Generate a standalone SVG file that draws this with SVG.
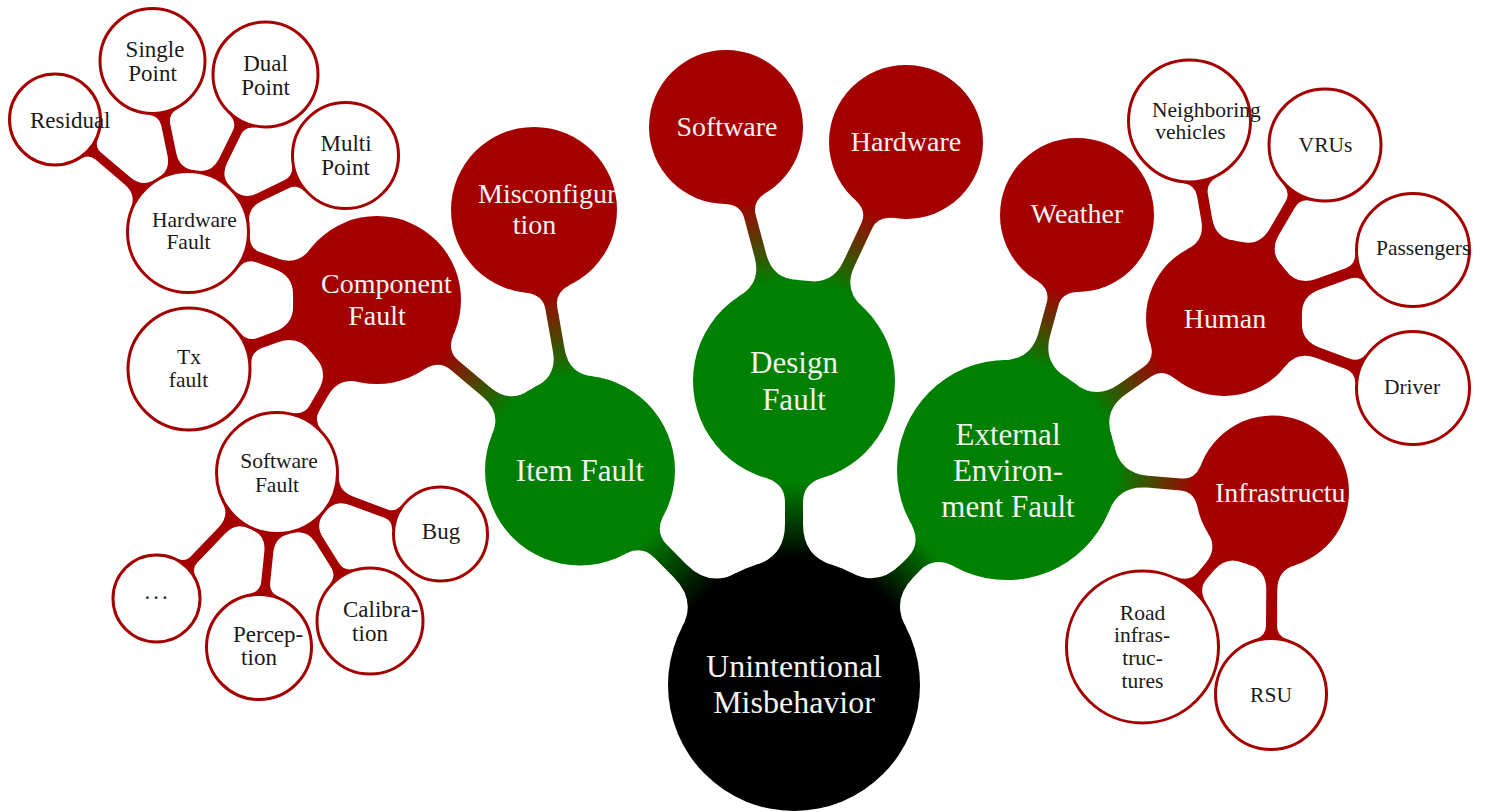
<svg xmlns="http://www.w3.org/2000/svg" width="1486" height="812" viewBox="0 0 1486 812">
<style>
.bg{fill:#ffffff}
.cr{fill:#a50000}
.nb{fill:#000000}
.ng{fill:#008000}
.nr{fill:#a50000}
.nw{fill:#ffffff;stroke:#a50000;stroke-width:3}
text{font-family:"Liberation Serif","Times New Roman",serif}
.tw{fill:#f2f2f2}
.tk{fill:#1a1a1a}
.s0{font-size:32px}
.s1{font-size:31px}
.s2{font-size:28px}
.s3{font-size:21.5px}
.s4{font-size:23px}
.m{text-anchor:middle}
.l{text-anchor:start}
</style>
<defs>
<clipPath id="clipMis"><circle cx="534" cy="210" r="83"/></clipPath>
<clipPath id="clipInf"><circle cx="1272.5" cy="492" r="76.5"/></clipPath>
<linearGradient id="g1" gradientUnits="userSpaceOnUse" x1="126" y1="0" x2="208" y2="0"><stop offset="0" stop-color="#000"/><stop offset="1" stop-color="#008000"/></linearGradient>
<linearGradient id="g2" gradientUnits="userSpaceOnUse" x1="126" y1="0" x2="203" y2="0"><stop offset="0" stop-color="#000"/><stop offset="1" stop-color="#008000"/></linearGradient>
<linearGradient id="g3" gradientUnits="userSpaceOnUse" x1="126" y1="0" x2="192.7" y2="0"><stop offset="0" stop-color="#000"/><stop offset="1" stop-color="#008000"/></linearGradient>
<linearGradient id="g4" gradientUnits="userSpaceOnUse" x1="95" y1="0" x2="181" y2="0"><stop offset="0" stop-color="#008000"/><stop offset="1" stop-color="#a50000"/></linearGradient>
<linearGradient id="g5" gradientUnits="userSpaceOnUse" x1="95" y1="0" x2="181.5" y2="0"><stop offset="0" stop-color="#008000"/><stop offset="1" stop-color="#a50000"/></linearGradient>
<linearGradient id="g6" gradientUnits="userSpaceOnUse" x1="101" y1="0" x2="186" y2="0"><stop offset="0" stop-color="#008000"/><stop offset="1" stop-color="#a50000"/></linearGradient>
<linearGradient id="g7" gradientUnits="userSpaceOnUse" x1="101" y1="0" x2="187" y2="0"><stop offset="0" stop-color="#008000"/><stop offset="1" stop-color="#a50000"/></linearGradient>
<linearGradient id="g8" gradientUnits="userSpaceOnUse" x1="110" y1="0" x2="187.4" y2="0"><stop offset="0" stop-color="#008000"/><stop offset="1" stop-color="#a50000"/></linearGradient>
<linearGradient id="g9" gradientUnits="userSpaceOnUse" x1="110" y1="0" x2="187" y2="0"><stop offset="0" stop-color="#008000"/><stop offset="1" stop-color="#a50000"/></linearGradient>
<linearGradient id="g10" gradientUnits="userSpaceOnUse" x1="110" y1="0" x2="190" y2="0"><stop offset="0" stop-color="#008000"/><stop offset="1" stop-color="#a50000"/></linearGradient>
</defs>
<rect class="bg" x="0" y="0" width="1486" height="812"/>
<g id="connectors">
<path fill="url(#g1)" transform="translate(794,685) rotate(-134.93)" d="M0,0 L119.8,38.9 Q128.5,9 161.3,9 L189,9 Q205.1,9 211.2,24.6 L303,0 L211.2,-24.6 Q205.1,-9 189,-9 L161.3,-9 Q128.5,-9 119.8,-38.9 Z"/>
<path fill="url(#g2)" transform="translate(794,685) rotate(-90)" d="M0,0 L119.8,38.9 Q128.5,9 161.3,9 L182.8,9 Q200,9 206.4,26.2 L304,0 L206.4,-26.2 Q200,-9 182.8,-9 L161.3,-9 Q128.5,-9 119.8,-38.9 Z"/>
<path fill="url(#g3)" transform="translate(794,685) rotate(-45.27)" d="M0,0 L119.8,38.9 Q128.5,9 161.3,9 L170.7,9 Q189.4,9 196.4,28.5 L302.7,0 L196.4,-28.5 Q189.4,-9 170.7,-9 L161.3,-9 Q128.5,-9 119.8,-38.9 Z"/>
<path fill="url(#g4)" transform="translate(580,470.5) rotate(-139.98)" d="M0,0 L90.3,29.4 Q96.9,6 121.6,6 L164.3,6 Q178.6,6 184,21.8 L265.1,0 L184,-21.8 Q178.6,-6 164.3,-6 L121.6,-6 Q96.9,-6 90.3,-29.4 Z"/>
<path fill="url(#g5)" transform="translate(580,470.5) rotate(-100.01)" d="M0,0 L90.3,29.4 Q96.9,6 121.6,6 L164.9,6 Q179,6 184.3,21.5 L264.5,0 L184.3,-21.5 Q179,-6 164.9,-6 L121.6,-6 Q96.9,-6 90.3,-29.4 Z"/>
<path fill="url(#g6)" transform="translate(794,381) rotate(-104.99)" d="M0,0 L96.1,31.2 Q103,6 129.3,6 L170.5,6 Q183.6,6 188.5,19.9 L262.9,0 L188.5,-19.9 Q183.6,-6 170.5,-6 L129.3,-6 Q103,-6 96.1,-31.2 Z"/>
<path fill="url(#g7)" transform="translate(794,381) rotate(-64.89)" d="M0,0 L96.1,31.2 Q103,6 129.3,6 L171.5,6 Q184.6,6 189.5,19.9 L263.9,0 L189.5,-19.9 Q184.6,-6 171.5,-6 L129.3,-6 Q103,-6 96.1,-31.2 Z"/>
<path fill="url(#g8)" transform="translate(1007,470) rotate(-74.65)" d="M0,0 L104.6,34 Q112.2,6 140.8,6 L172,6 Q185.1,6 190,19.9 L264.4,0 L190,-19.9 Q185.1,-6 172,-6 L140.8,-6 Q112.2,-6 104.6,-34 Z"/>
<path fill="url(#g9)" transform="translate(1007,470) rotate(-35.01)" d="M0,0 L104.6,34 Q112.2,6 140.8,6 L171.3,6 Q184.6,6 189.6,20.2 L264.9,0 L189.6,-20.2 Q184.6,-6 171.3,-6 L140.8,-6 Q112.2,-6 104.6,-34 Z"/>
<path fill="url(#g10)" transform="translate(1007,470) rotate(4.74)" d="M0,0 L104.6,34 Q112.2,6 140.8,6 L174.6,6 Q187.6,6 192.5,19.8 L266.4,0 L192.5,-19.8 Q187.6,-6 174.6,-6 L140.8,-6 Q112.2,-6 104.6,-34 Z"/>
<path class="cr" transform="translate(377,300) rotate(-160.21)" d="M0,0 L79.9,26 Q85.7,5.5 107.5,5.5 L126.5,5.5 Q137,5.5 141,16.1 L200.9,0 L141,-16.1 Q137,-5.5 126.5,-5.5 L107.5,-5.5 Q85.7,-5.5 79.9,-26 Z"/>
<path class="cr" transform="translate(377,300) rotate(159.85)" d="M0,0 L79.9,26 Q85.7,5.5 107.5,5.5 L125.3,5.5 Q135.9,5.5 139.9,16.2 L200.3,0 L139.9,-16.2 Q135.9,-5.5 125.3,-5.5 L107.5,-5.5 Q85.7,-5.5 79.9,-26 Z"/>
<path class="cr" transform="translate(377,300) rotate(120.03)" d="M0,0 L79.9,26 Q85.7,5.5 107.5,5.5 L125.4,5.5 Q135.9,5.5 139.9,16.1 L199.8,0 L139.9,-16.1 Q135.9,-5.5 125.4,-5.5 L107.5,-5.5 Q85.7,-5.5 79.9,-26 Z"/>
<path class="cr" transform="translate(1224,318) rotate(-99.93)" d="M0,0 L74.2,24.1 Q79.6,5.5 99.8,5.5 L125,5.5 Q135.6,5.5 139.6,16.2 L200,0 L139.6,-16.2 Q135.6,-5.5 125,-5.5 L99.8,-5.5 Q79.6,-5.5 74.2,-24.1 Z"/>
<path class="cr" transform="translate(1224,318) rotate(-59.72)" d="M0,0 L74.2,24.1 Q79.6,5.5 99.8,5.5 L131.3,5.5 Q141.1,5.5 144.8,14.9 L200.3,0 L144.8,-14.9 Q141.1,-5.5 131.3,-5.5 L99.8,-5.5 Q79.6,-5.5 74.2,-24.1 Z"/>
<path class="cr" transform="translate(1224,318) rotate(-19.79)" d="M0,0 L74.2,24.1 Q79.6,5.5 99.8,5.5 L131.3,5.5 Q141.2,5.5 144.9,15 L200.9,0 L144.9,-15 Q141.2,-5.5 131.3,-5.5 L99.8,-5.5 Q79.6,-5.5 74.2,-24.1 Z"/>
<path class="cr" transform="translate(1224,318) rotate(20.32)" d="M0,0 L74.2,24.1 Q79.6,5.5 99.8,5.5 L131.9,5.5 Q141.8,5.5 145.5,15 L201.5,0 L145.5,-15 Q141.8,-5.5 131.9,-5.5 L99.8,-5.5 Q79.6,-5.5 74.2,-24.1 Z"/>
<path class="cr" transform="translate(1272.5,492) rotate(129.99)" d="M0,0 L72.8,23.6 Q78,5.5 97.9,5.5 L109.3,5.5 Q122.5,5.5 127.4,20.1 L202.3,0 L127.4,-20.1 Q122.5,-5.5 109.3,-5.5 L97.9,-5.5 Q78,-5.5 72.8,-23.6 Z"/>
<path class="cr" transform="translate(1272.5,492) rotate(90.43)" d="M0,0 L72.8,23.6 Q78,5.5 97.9,5.5 L133.6,5.5 Q143.3,5.5 146.9,14.8 L202,0 L146.9,-14.8 Q143.3,-5.5 133.6,-5.5 L97.9,-5.5 Q78,-5.5 72.8,-23.6 Z"/>
<path class="cr" transform="translate(188,232) rotate(-139.78)" d="M0,0 L59,19.2 Q63.2,4.5 79.4,4.5 L117.8,4.5 Q125.8,4.5 128.8,12.2 L174.2,0 L128.8,-12.2 Q125.8,-4.5 117.8,-4.5 L79.4,-4.5 Q63.2,-4.5 59,-19.2 Z"/>
<path class="cr" transform="translate(188,232) rotate(-101.73)" d="M0,0 L59,19.2 Q63.2,4.5 79.4,4.5 L109.8,4.5 Q119,4.5 122.4,14 L174.6,0 L122.4,-14 Q119,-4.5 109.8,-4.5 L79.4,-4.5 Q63.2,-4.5 59,-19.2 Z"/>
<path class="cr" transform="translate(188,232) rotate(-63.8)" d="M0,0 L59,19.2 Q63.2,4.5 79.4,4.5 L110.7,4.5 Q119.9,4.5 123.3,14 L175.5,0 L123.3,-14 Q119.9,-4.5 110.7,-4.5 L79.4,-4.5 Q63.2,-4.5 59,-19.2 Z"/>
<path class="cr" transform="translate(188,232) rotate(-25.9)" d="M0,0 L59,19.2 Q63.2,4.5 79.4,4.5 L109.7,4.5 Q119,4.5 122.5,14.1 L175.1,0 L122.5,-14.1 Q119,-4.5 109.7,-4.5 L79.4,-4.5 Q63.2,-4.5 59,-19.2 Z"/>
<path class="cr" transform="translate(277,473) rotate(133.83)" d="M0,0 L59,19.2 Q63.2,4.5 79.4,4.5 L120,4.5 Q127.6,4.5 130.5,11.7 L174,0 L130.5,-11.7 Q127.6,-4.5 120,-4.5 L79.4,-4.5 Q63.2,-4.5 59,-19.2 Z"/>
<path class="cr" transform="translate(277,473) rotate(95.91)" d="M0,0 L59,19.2 Q63.2,4.5 79.4,4.5 L110.1,4.5 Q119.3,4.5 122.7,14 L174.9,0 L122.7,-14 Q119.3,-4.5 110.1,-4.5 L79.4,-4.5 Q63.2,-4.5 59,-19.2 Z"/>
<path class="cr" transform="translate(277,473) rotate(57.85)" d="M0,0 L59,19.2 Q63.2,4.5 79.4,4.5 L109.4,4.5 Q118.7,4.5 122.2,14.1 L174.8,0 L122.2,-14.1 Q118.7,-4.5 109.4,-4.5 L79.4,-4.5 Q63.2,-4.5 59,-19.2 Z"/>
<path class="cr" transform="translate(277,473) rotate(20.46)" d="M0,0 L59,19.2 Q63.2,4.5 79.4,4.5 L116.3,4.5 Q124.5,4.5 127.6,12.6 L174.5,0 L127.6,-12.6 Q124.5,-4.5 116.3,-4.5 L79.4,-4.5 Q63.2,-4.5 59,-19.2 Z"/>
</g>
<g id="root"><circle class="nb" cx="794" cy="685" r="126"/><text class="tw s0 m" x="794" y="677">Unintentional</text><text class="tw s0 m" x="794" y="713">Misbehavior</text></g>
<g id="item-fault"><circle class="ng" cx="580" cy="470.5" r="95"/><text class="tw s1 m" x="580" y="481">Item Fault</text></g>
<g id="design-fault"><circle class="ng" cx="794" cy="381" r="101"/><text class="tw s1 m" x="794" y="373">Design</text><text class="tw s1 m" x="794" y="410">Fault</text></g>
<g id="external-fault"><circle class="ng" cx="1007" cy="470" r="110"/><text class="tw s1 m" x="1008" y="445">External</text><text class="tw s1 m" x="1008" y="481">Environ-</text><text class="tw s1 m" x="1008" y="517">ment Fault</text></g>
<g id="component-fault"><circle class="nr" cx="377" cy="300" r="84"/><text class="tw s2 l" x="321" y="293">Component</text><text class="tw s2 m" x="377" y="325">Fault</text></g>
<g id="misconfiguration"><circle class="nr" cx="534" cy="210" r="83"/><text class="tw s2 l" x="478" y="203" clip-path="url(#clipMis)">Misconfigura</text><text class="tw s2 m" x="534.5" y="234">tion</text></g>
<g id="software"><circle class="nr" cx="726" cy="127" r="77"/><text class="tw s2 m" x="727" y="136">Software</text></g>
<g id="hardware"><circle class="nr" cx="906" cy="142" r="77"/><text class="tw s2 m" x="906" y="151">Hardware</text></g>
<g id="weather"><circle class="nr" cx="1077" cy="215" r="77"/><text class="tw s2 m" x="1077" y="223">Weather</text></g>
<g id="human"><circle class="nr" cx="1224" cy="318" r="78"/><text class="tw s2 m" x="1225" y="328">Human</text></g>
<g id="infrastructure"><circle class="nr" cx="1272.5" cy="492" r="76.5"/><text class="tw s2 l" x="1215" y="502" clip-path="url(#clipInf)">Infrastructu</text></g>
<g id="hardware-fault"><circle class="nw" cx="188" cy="232" r="60.5"/><text class="tk s3 l" x="152" y="227">Hardware</text><text class="tk s3 m" x="188.5" y="249">Fault</text></g>
<g id="tx-fault"><circle class="nw" cx="189" cy="369" r="61"/><text class="tk s3 m" x="189" y="364">Tx</text><text class="tk s3 m" x="188.5" y="387">fault</text></g>
<g id="software-fault"><circle class="nw" cx="277" cy="473" r="60.5"/><text class="tk s3 m" x="279" y="468">Software</text><text class="tk s3 m" x="277" y="492">Fault</text></g>
<g id="residual"><circle class="nw" cx="55" cy="119.5" r="45.5"/><text class="tk s4 l" x="30" y="128">Residual</text></g>
<g id="single-point"><circle class="nw" cx="152.5" cy="61" r="52.5"/><text class="tk s4 m" x="155" y="57">Single</text><text class="tk s4 m" x="152.5" y="81">Point</text></g>
<g id="dual-point"><circle class="nw" cx="265.5" cy="74.5" r="52.5"/><text class="tk s4 m" x="265.5" y="71">Dual</text><text class="tk s4 m" x="265.5" y="95">Point</text></g>
<g id="multi-point"><circle class="nw" cx="345.5" cy="155.5" r="53"/><text class="tk s4 m" x="346" y="151">Multi</text><text class="tk s4 m" x="345.5" y="175">Point</text></g>
<g id="dots"><circle class="nw" cx="156.5" cy="598.5" r="43.5"/><text class="tk s4 m" x="157.5" y="599" letter-spacing="3">...</text></g>
<g id="perception"><circle class="nw" cx="259" cy="647" r="52.5"/><text class="tk s4 l" x="233" y="642">Percep-</text><text class="tk s4 m" x="259" y="665">tion</text></g>
<g id="calibration"><circle class="nw" cx="370" cy="621" r="53"/><text class="tk s4 l" x="343" y="617">Calibra-</text><text class="tk s4 m" x="370" y="641">tion</text></g>
<g id="bug"><circle class="nw" cx="440.5" cy="534" r="47"/><text class="tk s4 m" x="441" y="539">Bug</text></g>
<g id="neighboring-vehicles"><circle class="nw" cx="1189.5" cy="121" r="61"/><text class="tk s3 l" x="1152" y="116.5">Neighboring</text><text class="tk s3 m" x="1190.5" y="139">vehicles</text></g>
<g id="vrus"><circle class="nw" cx="1325" cy="145" r="56"/><text class="tk s3 m" x="1325.5" y="152">VRUs</text></g>
<g id="passengers"><circle class="nw" cx="1413" cy="250" r="56.5"/><text class="tk s3 l" x="1376" y="255">Passengers</text></g>
<g id="driver"><circle class="nw" cx="1413" cy="388" r="56.5"/><text class="tk s3 m" x="1412" y="394">Driver</text></g>
<g id="road-infrastructures"><circle class="nw" cx="1142.5" cy="647" r="76"/><text class="tk s3 m" x="1142.5" y="620">Road</text><text class="tk s3 m" x="1142" y="642">infras-</text><text class="tk s3 m" x="1142.5" y="664.5">truc-</text><text class="tk s3 m" x="1142.5" y="687.5">tures</text></g>
<g id="rsu"><circle class="nw" cx="1271" cy="694" r="55.5"/><text class="tk s3 m" x="1271" y="702">RSU</text></g>
</svg>
